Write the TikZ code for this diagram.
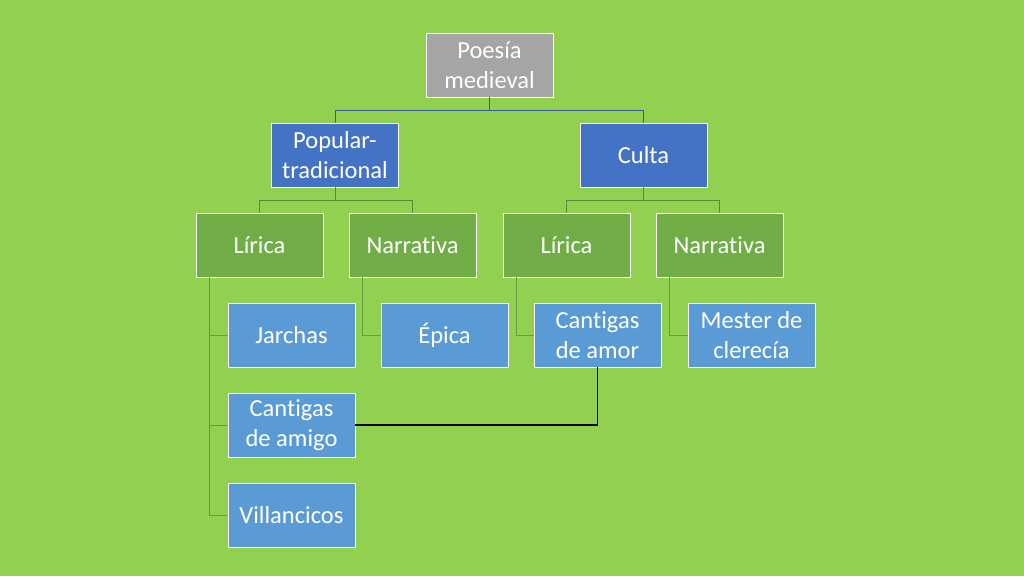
\documentclass[tikz,border=0pt]{standalone}
\usepackage{fontspec}
\setmainfont{Carlito}[Ligatures={NoCommon}]
\definecolor{bg}{HTML}{92D050}
\definecolor{grayb}{HTML}{A5A5A5}
\definecolor{blueb}{HTML}{4472C4}
\definecolor{greenb}{HTML}{70AD47}
\definecolor{lblue}{HTML}{5B9BD5}
\begin{document}
\begin{tikzpicture}[x=1pt,y=-1pt,
  box/.style={draw=white,line width=0.8pt,minimum width=127pt,minimum height=64pt,text=white,align=center,font=\fontsize{24.5}{29.5}\selectfont,inner sep=2pt},
  c1/.style={draw=blueb!80!black,line width=0.7pt},
  c2/.style={draw=greenb!80!black,line width=0.7pt},
  c3/.style={draw=greenb!90!black,line width=0.7pt}]
\fill[bg] (0,0) rectangle (1024,576);
\node[box,fill=grayb] (root) at (489.5,65) {Poesía\\medieval};
\node[box,fill=blueb] (pop) at (335,155) {Popular-\\tradicional};
\node[box,fill=blueb] (cul) at (643.5,155) {Culta};
\node[box,fill=greenb] (l1) at (259.5,245) {Lírica};
\node[box,fill=greenb] (n1) at (412.5,245) {Narrativa};
\node[box,fill=greenb] (l2) at (566.5,245) {Lírica};
\node[box,fill=greenb] (n2) at (719.5,245) {Narrativa};
\node[box,fill=lblue] (jar) at (291.5,335) {Jarchas};
\node[box,fill=lblue] (epi) at (444.5,335) {Épica};
\node[box,fill=lblue] (cam) at (597.5,335) {Cantigas\\de amor};
\node[box,fill=lblue] (mes) at (751.5,335) {Mester de\\clerecía};
\node[box,fill=lblue] (cai) at (291.5,425) {Cantigas\\de amigo};
\node[box,fill=lblue] (vil) at (291.5,515) {Villancicos};
\draw[c1] (root.south) -- ++(0,13) -| (pop.north);
\draw[c1] (root.south) -- ++(0,13) -| (cul.north);
\draw[c2] (pop.south) -- ++(0,13) -| (l1.north);
\draw[c2] (pop.south) -- ++(0,13) -| (n1.north);
\draw[c2] (cul.south) -- ++(0,13) -| (l2.north);
\draw[c2] (cul.south) -- ++(0,13) -| (n2.north);
\draw[c3] (l1.south -| 209,0) |- (jar.west);
\draw[c3] (l1.south -| 209,0) |- (cai.west);
\draw[c3] (l1.south -| 209,0) |- (vil.west);
\draw[c3] (n1.south -| 362,0) |- (epi.west);
\draw[c3] (l2.south -| 516,0) |- (cam.west);
\draw[c3] (n2.south -| 669,0) |- (mes.west);
\draw[black,line width=1.5pt] (cam.south) |- (cai.east);
\end{tikzpicture}
\end{document}
